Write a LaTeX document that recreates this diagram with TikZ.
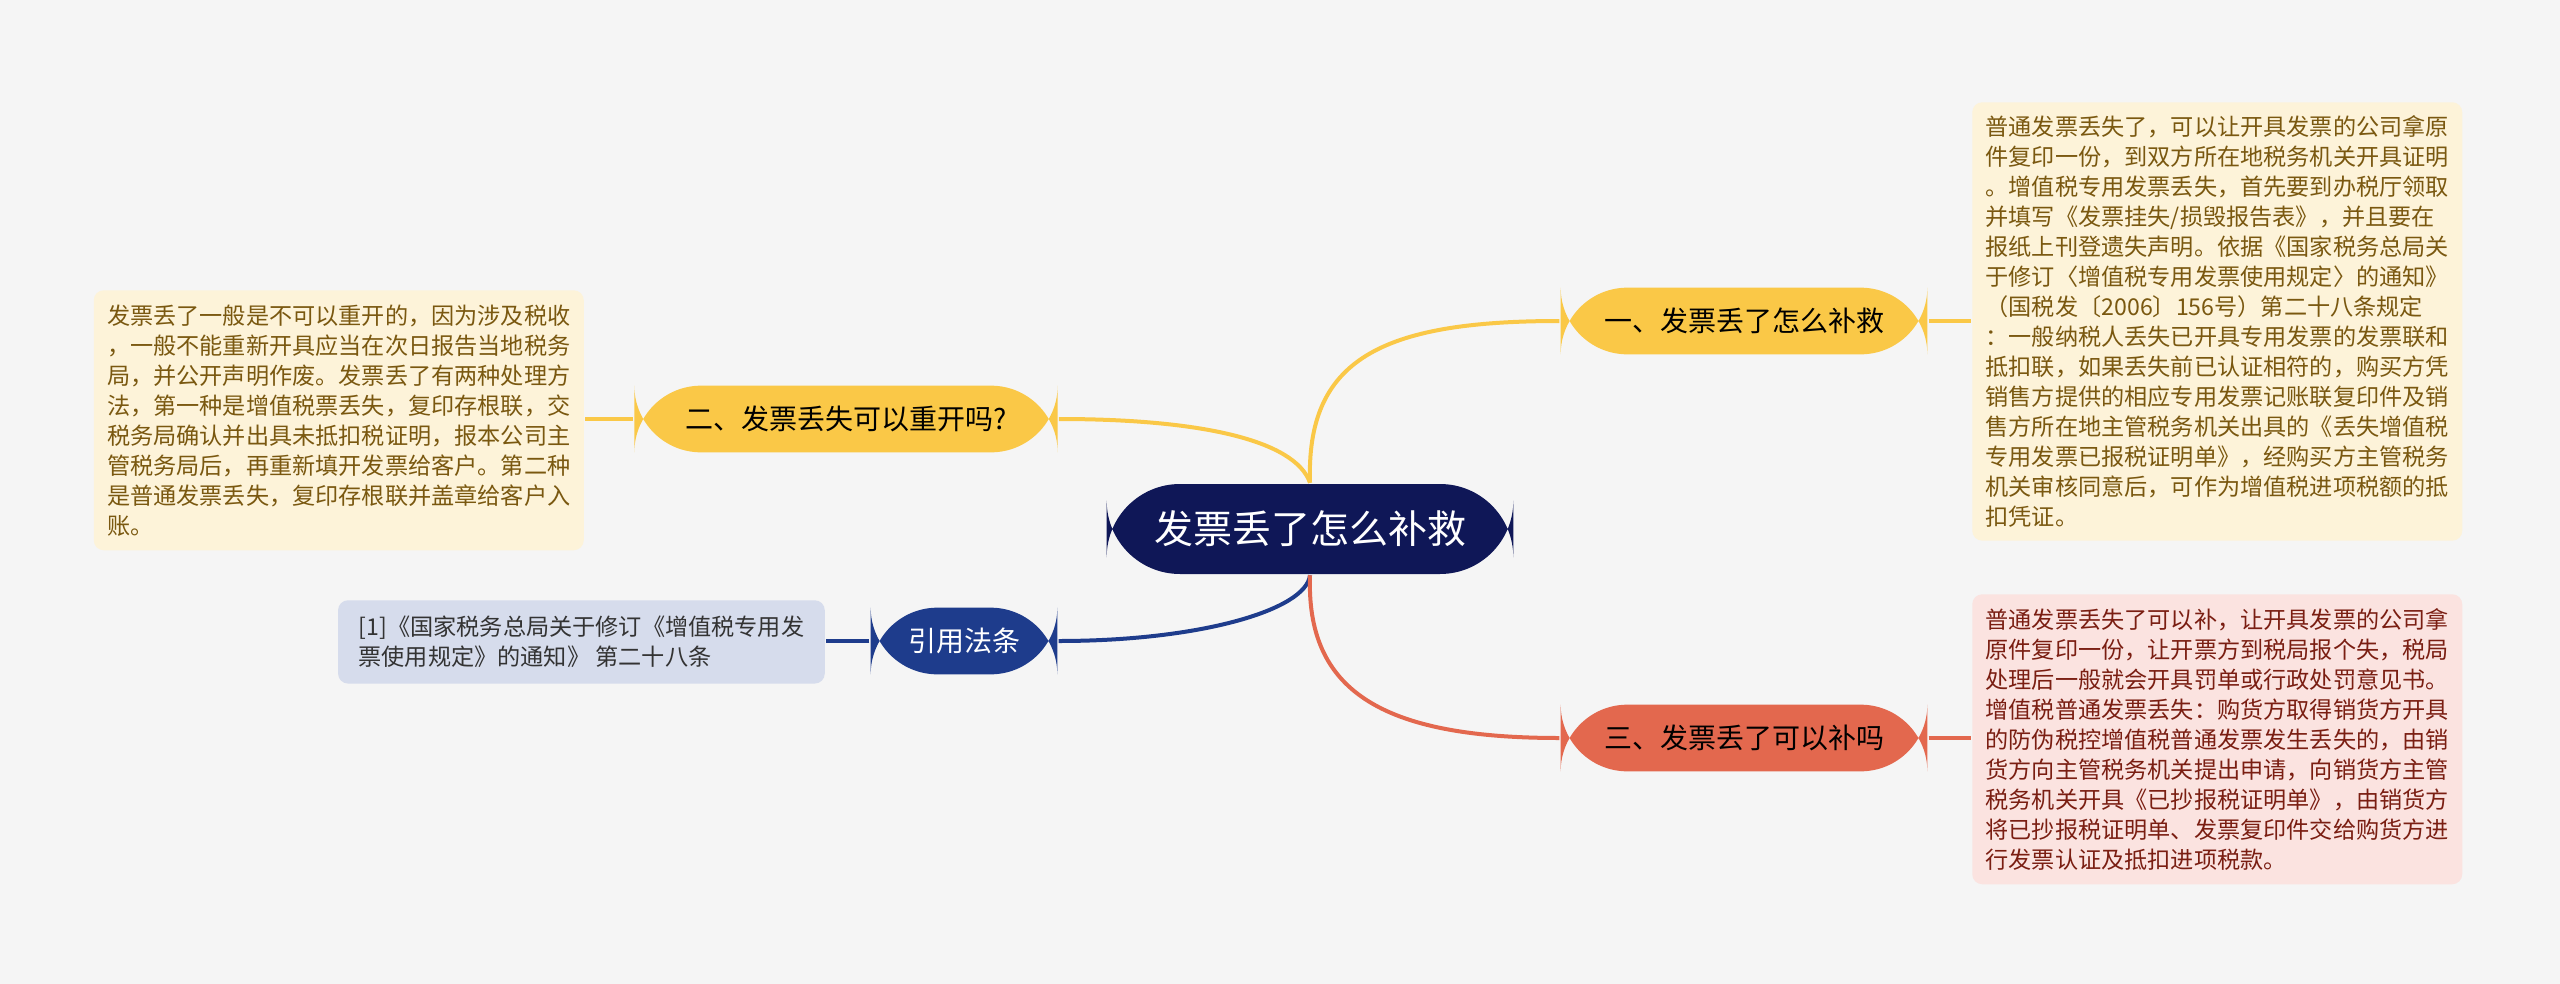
\documentclass[tikz,border=0pt]{standalone}
\usepackage{fontspec}
\setmainfont{Noto Sans CJK SC}
\usetikzlibrary{positioning}
\definecolor{bgc}{HTML}{F5F5F5}
\definecolor{rootc}{HTML}{0F1757}
\definecolor{yelc}{HTML}{FAC847}
\definecolor{bluec}{HTML}{1E3C8C}
\definecolor{redc}{HTML}{E3684E}
\definecolor{ynote}{HTML}{FDF3D9}
\definecolor{rnote}{HTML}{FBE3E0}
\definecolor{bnote}{HTML}{D6DCEC}
\definecolor{ytext}{HTML}{7A5810}
\definecolor{rtext}{HTML}{7A1E12}
\tikzset{every picture/.style={line width=0.75pt}}
\tikzset{
  topic/.style={rounded corners=20pt, minimum height=20pt, inner xsep=10pt, font=\fontsize{8.4}{10}\selectfont},
  note/.style={rounded corners=3pt, inner xsep=4pt, inner ysep=4pt, align=left, font=\fontsize{6.95}{9}\selectfont},
  link/.style={line width=1.2pt}
}
\begin{document}
\begin{tikzpicture}[x=0.3pt,y=0.3pt,yscale=-1,xscale=1]
\fill[bgc] (0,0) rectangle (2560,984);

% main nodes
\node[fill=rootc, text=white, rounded corners=22pt, minimum width=122pt, minimum height=27pt, font=\fontsize{11.7}{13}\selectfont] (root) at (1310,529) {发票丢了怎么补救};
\node[topic, fill=yelc, minimum width=110pt] (t1) at (1744,321) {一、发票丢了怎么补救};
\node[topic, fill=yelc, minimum width=127pt] (t2) at (846,419) {二、发票丢失可以重开吗?};
\node[topic, fill=bluec, text=white, minimum width=56pt] (t4) at (964,641) {引用法条};
\node[topic, fill=redc, minimum width=110pt] (t3) at (1744,738) {三、发票丢了可以补吗};

% notes
\node[note, fill=ynote, text=ytext, anchor=north west, minimum width=146pt, minimum height=131pt] (n1) at (1971,101) {普通发票丢失了，可以让开具发票的公司拿原\\件复印一份，到双方所在地税务机关开具证明\\。增值税专用发票丢失，首先要到办税厅领取\\并填写《发票挂失/损毁报告表》，并且要在\\报纸上刊登遗失声明。依据《国家税务总局关\\于修订〈增值税专用发票使用规定〉的通知》\\（国税发〔2006〕156号）第二十八条规定\\：一般纳税人丢失已开具专用发票的发票联和\\抵扣联，如果丢失前已认证相符的，购买方凭\\销售方提供的相应专用发票记账联复印件及销\\售方所在地主管税务机关出具的《丢失增值税\\专用发票已报税证明单》，经购买方主管税务\\机关审核同意后，可作为增值税进项税额的抵\\扣凭证。};
\node[note, fill=rnote, text=rtext, anchor=north west, minimum width=146pt, minimum height=87pt] (n3) at (1971,593) {普通发票丢失了可以补，让开具发票的公司拿\\原件复印一份，让开票方到税局报个失，税局\\处理后一般就会开具罚单或行政处罚意见书。\\增值税普通发票丢失：购货方取得销货方开具\\的防伪税控增值税普通发票发生丢失的，由销\\货方向主管税务机关提出申请，向销货方主管\\税务机关开具《已抄报税证明单》，由销货方\\将已抄报税证明单、发票复印件交给购货方进\\行发票认证及抵扣进项税款。};
\node[note, fill=ynote, text=ytext, anchor=north east, minimum width=145pt, minimum height=78pt] (n2) at (585,289) {发票丢了一般是不可以重开的，因为涉及税收\\，一般不能重新开具应当在次日报告当地税务\\局，并公开声明作废。发票丢了有两种处理方\\法，第一种是增值税票丢失，复印存根联，交\\税务局确认并出具未抵扣税证明，报本公司主\\管税务局后，再重新填开发票给客户。第二种\\是普通发票丢失，复印存根联并盖章给客户入\\账。};
\node[note, fill=bnote, text=black!80, anchor=north east, minimum width=146pt, minimum height=25pt] (n4) at (826,599) {[1]《国家税务总局关于修订《增值税专用发\\票使用规定》的通知》 第二十八条};

% connectors
\draw[link, yelc] (root.north) .. controls (1306,360) and (1380,321) .. (t1.west);
\draw[link, yelc] (root.north) .. controls (1295,440) and (1200,419) .. (t2.east);
\draw[link, bluec] (root.south) .. controls (1306,610) and (1200,641) .. (t4.east);
\draw[link, redc] (root.south) .. controls (1306,690) and (1380,738) .. (t3.west);
\draw[link, yelc] (t1.east) -- (n1.west |- t1.east);
\draw[link, yelc] (t2.west) -- (n2.east |- t2.west);
\draw[link, bluec] (t4.west) -- (n4.east |- t4.west);
\draw[link, redc] (t3.east) -- (n3.west |- t3.east);
\end{tikzpicture}
\end{document}
